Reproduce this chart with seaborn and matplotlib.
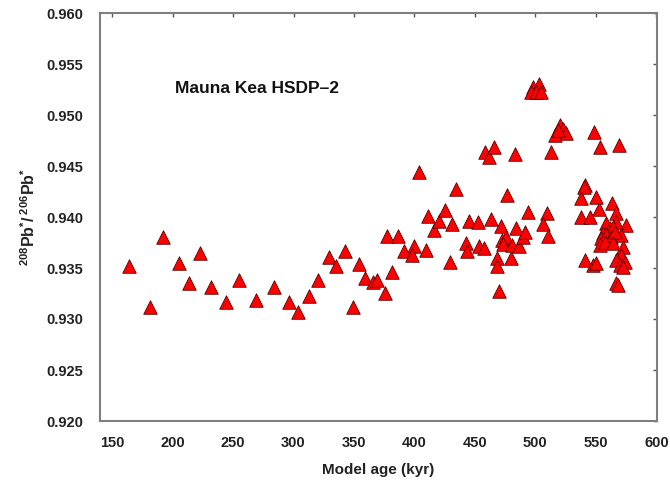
import matplotlib
matplotlib.use("Agg")
import matplotlib.pyplot as plt
import seaborn as sns
import pandas as pd

# Model age (kyr)
age = [164.3, 181.6, 191.8, 205.0, 213.2, 222.9, 232.0, 244.1, 255.1, 268.9,
       283.8, 296.1, 304.1, 313.2, 320.1, 329.2, 335.2, 342.2, 349.0, 354.0,
       359.2, 366.0, 369.3, 375.9, 377.6, 386.0, 381.4, 391.4, 399.6, 398.0,
       409.3, 404.0, 410.9, 416.1, 420.5, 425.2, 429.3, 431.2, 434.3, 442.5,
       443.1, 445.0, 452.2, 453.5, 457.7, 462.9, 458.2, 461.8, 465.7, 483.2,
       476.6, 471.2, 467.9, 468.4, 479.5, 470.0, 472.3, 475.6, 473.3, 480.3,
       483.8, 486.6, 489.4, 491.3, 494.0, 498.1, 503.1, 496.2, 500.9, 505.0,
       520.2, 522.9, 525.7, 516.1, 518.8, 513.3, 548.2, 553.2, 569.1, 509.2,
       506.4, 510.5, 540.8, 540.0, 538.1, 549.9, 563.7, 552.6, 538.1, 545.5,
       566.4, 575.2, 567.0, 558.7, 561.4, 564.2, 571.1, 555.9, 554.6, 558.7,
       562.8, 565.5, 553.2, 557.3, 564.2, 572.4, 571.1, 540.8, 547.7, 550.5,
       567.0, 569.7, 573.8, 572.4, 567.0, 568.3]

# 208Pb*/206Pb*
ratio = [0.93515, 0.93118, 0.93801, 0.93546, 0.93356, 0.93650, 0.93311, 0.93167, 0.93382, 0.93186,
         0.93314, 0.93167, 0.93064, 0.93225, 0.93382, 0.93603, 0.93523, 0.93670, 0.93121, 0.93542,
         0.93404, 0.93366, 0.93385, 0.93252, 0.93817, 0.93817, 0.93456, 0.93670, 0.93716, 0.93627,
         0.93676, 0.94438, 0.94010, 0.93873, 0.93961, 0.94069, 0.93562, 0.93928, 0.94275, 0.93742,
         0.93664, 0.93961, 0.93954, 0.93716, 0.93699, 0.93977, 0.94634, 0.94591, 0.94683, 0.94618,
         0.94213, 0.93912, 0.93601, 0.93520, 0.93595, 0.93277, 0.93775, 0.93807, 0.93735, 0.93725,
         0.93889, 0.93716, 0.93807, 0.93856, 0.94046, 0.95277, 0.95304, 0.95228, 0.95223, 0.95223,
         0.94902, 0.94860, 0.94821, 0.94804, 0.94853, 0.94640, 0.94830, 0.94689, 0.94706, 0.94036,
         0.93931, 0.93814, 0.94314, 0.94299, 0.94189, 0.94199, 0.94134, 0.94075, 0.94003, 0.94003,
         0.94036, 0.93922, 0.93954, 0.93938, 0.93889, 0.93905, 0.93824, 0.93840, 0.93791, 0.93824,
         0.93807, 0.93856, 0.93725, 0.93758, 0.93748, 0.93709, 0.93627, 0.93578, 0.93529, 0.93546,
         0.93578, 0.93529, 0.93562, 0.93513, 0.93350, 0.93333]

x_ticks = [150, 200, 250, 300, 350, 400, 450, 500, 550, 600]
y_ticks = [0.920, 0.925, 0.930, 0.935, 0.940, 0.945, 0.950, 0.955, 0.960]
y_tick_labels = ["0.920", "0.925", "0.930", "0.935", "0.940", "0.945", "0.950", "0.955", "0.960"]

df = pd.DataFrame({"age": age, "ratio": ratio})

sns.set_style("white")
plt.rcParams["font.family"] = ["Liberation Sans", "DejaVu Sans"]
plt.rcParams["mathtext.fontset"] = "custom"
plt.rcParams["mathtext.rm"] = "Liberation Sans"
plt.rcParams["mathtext.bf"] = "Liberation Sans:bold"

fig = plt.figure(figsize=(6.7, 4.83), dpi=100)
ax = fig.add_axes([100 / 670, 1 - 421 / 483, (656.7 - 100) / 670, (421 - 13) / 483])

sns.scatterplot(data=df, x="age", y="ratio", marker="^", s=95, color="#ff0000",
                edgecolor="#5a0000", linewidth=0.6, ax=ax, legend=False, zorder=3)

ax.set_xlim(140, 600.3)
ax.set_ylim(0.920, 0.960)
ax.set_xticks(x_ticks)
ax.set_xticklabels([str(t) for t in x_ticks])
ax.set_yticks(y_ticks)
ax.set_yticklabels(y_tick_labels)

for sp in ax.spines.values():
    sp.set_color("#7f7f7f")
    sp.set_linewidth(1.5)

ax.tick_params(axis="both", which="both", direction="in", length=3, width=1,
               color="#555555", top=True, right=True, labelsize=10.5)
ax.tick_params(axis="x", pad=11)
ax.tick_params(axis="y", pad=12)
for lab in ax.get_xticklabels() + ax.get_yticklabels():
    lab.set_fontweight("bold")
    lab.set_color("#222222")

ax.set_xlabel("Model age (kyr)", fontsize=11, fontweight="bold", color="#222222", labelpad=9)
ax.set_ylabel(r"$\mathbf{^{208}Pb^{*}/\,^{206}Pb^{*}}$", fontsize=11.5, color="#222222", labelpad=6)

ax.text(201.7, 0.95255, "Mauna Kea HSDP–2", fontsize=12.5, fontweight="bold",
        ha="left", va="center", color="#111111")

fig.savefig("out.png", dpi=100)
